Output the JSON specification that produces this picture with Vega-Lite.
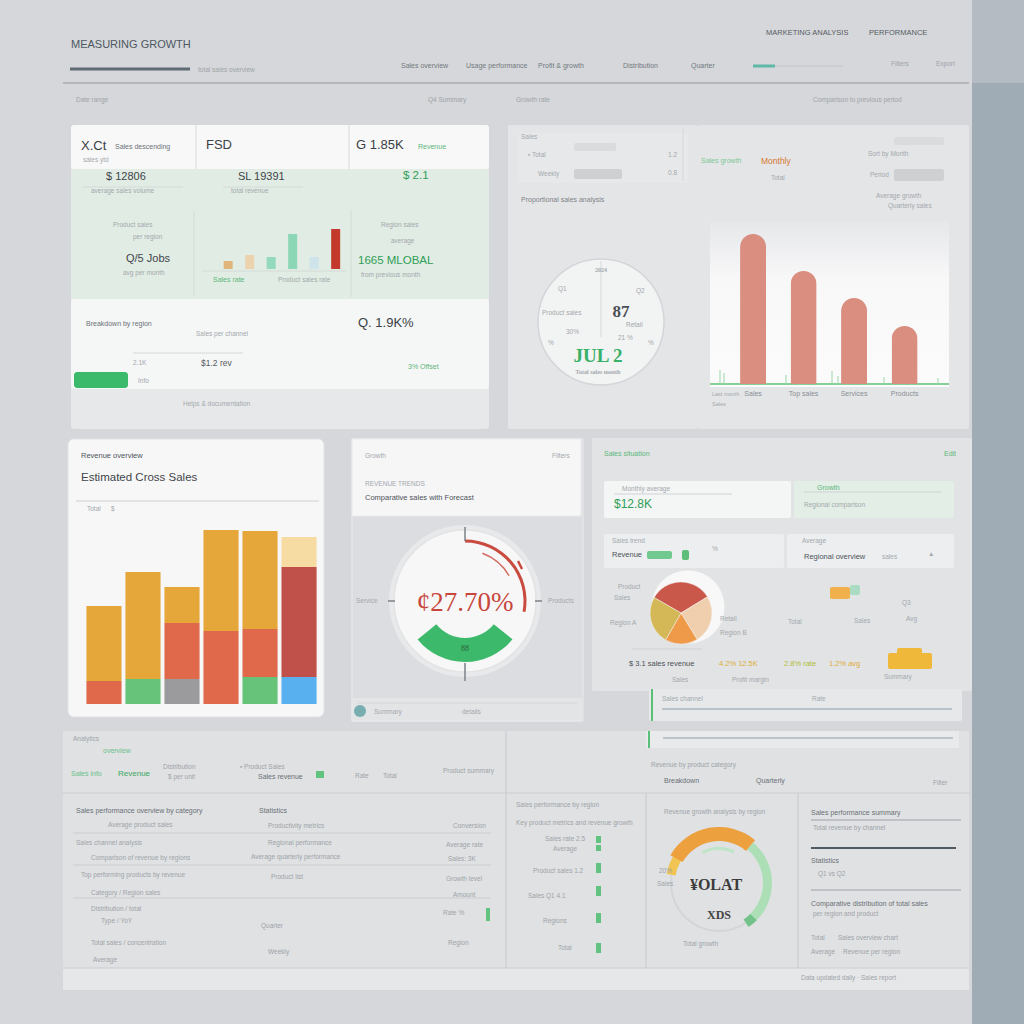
{
"$schema":"https://vega.github.io/schema/vega-lite/v6.json",
"background":"#d5d7da",
"padding":{"left":62,"top":0,"right":0,"bottom":0},
"spacing":0,
"config":{"view":{"stroke":null},"font":"Liberation Sans"},
"hconcat":[
{"spacing":8,
"vconcat":[
{"width":906,"height":116,
 "resolve":{"scale":{"x":"independent","y":"independent","color":"independent","size":"independent","strokeWidth":"independent"}},
 "layer":[
  {"data":{"values":[{"gx":7,"gx2":127,"gy":69,"gy2":69,"k":"dark"},{"gx":690,"gx2":712,"gy":66,"gy2":66,"k":"teal"},{"gx":712,"gx2":780,"gy":66,"gy2":66,"k":"faint"},{"gx":0,"gx2":906,"gy":83,"gy2":83,"k":"line"}]},
   "mark":{"type":"rule"},
   "encoding":{"x":{"field":"gx","type":"quantitative","scale":{"domain":[0,906],"nice":false,"zero":false},"axis":null},"x2":{"field":"gx2"},
    "y":{"field":"gy","type":"quantitative","scale":{"domain":[0,116],"nice":false,"zero":false,"reverse":true},"axis":null},"y2":{"field":"gy2"},
    "color":{"field":"k","type":"nominal","scale":{"domain":["line","dark","teal","faint"],"range":["#b3b7bb","#5f6b72","#5fb8a8","#c9cccf"]},"legend":null},
    "strokeWidth":{"field":"k","type":"nominal","scale":{"type":"ordinal","domain":["line","dark","teal","faint"],"range":[2,3,3,1.5]},"legend":null}}},
  {"data":{"values":[
    {"gx":8,"gy":45,"t":"MEASURING GROWTH","k":"title"},
    {"gx":135,"gy":70,"t":"total sales overview","k":"faint"},
    {"gx":338,"gy":66,"t":"Sales overview","k":"small"},
    {"gx":403,"gy":66,"t":"Usage performance","k":"small"},
    {"gx":475,"gy":66,"t":"Profit & growth","k":"small"},
    {"gx":560,"gy":66,"t":"Distribution","k":"small"},
    {"gx":628,"gy":66,"t":"Quarter","k":"small"},
    {"gx":703,"gy":33,"t":"MARKETING ANALYSIS","k":"label"},
    {"gx":806,"gy":33,"t":"PERFORMANCE","k":"label"},
    {"gx":828,"gy":64,"t":"Filters","k":"faint"},
    {"gx":873,"gy":64,"t":"Export","k":"faint"},
    {"gx":13,"gy":100,"t":"Date range","k":"faint"},
    {"gx":365,"gy":100,"t":"Q4 Summary","k":"faint"},
    {"gx":453,"gy":100,"t":"Growth rate","k":"faint"},
    {"gx":750,"gy":100,"t":"Comparison to previous period","k":"faint"}]},
   "mark":{"type":"text","align":"left","baseline":"middle","font":"Liberation Sans"},
   "encoding":{"x":{"field":"gx","type":"quantitative","scale":{"domain":[0,906],"nice":false,"zero":false},"axis":null},
    "y":{"field":"gy","type":"quantitative","scale":{"domain":[0,116],"nice":false,"zero":false,"reverse":true},"axis":null},
    "text":{"field":"t"},
    "color":{"field":"k","type":"nominal","scale":{"domain":["faint","small","label","title"],"range":["#9ea3a8","#737980","#555b62","#4d5862"]},"legend":null},
    "size":{"field":"k","type":"nominal","scale":{"type":"ordinal","domain":["faint","small","label","title"],"range":[6.5,7,7.5,11]},"legend":null}}}
 ]},
{"spacing":19,"hconcat":[
 {"width":426,"height":304,
  "resolve":{"scale":{"x":"independent","y":"independent","color":"independent","size":"independent","strokeWidth":"independent"}},
  "layer":[
   {"data":{"values":[{"gx":8,"gx2":426,"gy":0,"gy2":304,"k":"card"},{"gx":8,"gx2":426,"gy":0,"gy2":44,"k":"white"},{"gx":8,"gx2":426,"gy":44,"gy2":174,"k":"green"},{"gx":8,"gx2":426,"gy":174,"gy2":264,"k":"white2"},{"gx":11,"gx2":65,"gy":247,"gy2":263,"k":"btn"}]},
    "mark":{"type":"rect","cornerRadius":3},
    "encoding":{"x":{"field":"gx","type":"quantitative","scale":{"domain":[0,426],"nice":false,"zero":false},"axis":null},"x2":{"field":"gx2"},
     "y":{"field":"gy","type":"quantitative","scale":{"domain":[0,304],"nice":false,"zero":false,"reverse":true},"axis":null},"y2":{"field":"gy2"},
     "color":{"field":"k","type":"nominal","scale":{"domain":["card","white","green","white2","btn"],"range":["#e7e8ea","#f8f8f9","#e1ece4","#f5f6f6","#3cba6c"]},"legend":null}}},
   {"data":{"values":[{"gx":133,"gx2":133,"gy":0,"gy2":44},{"gx":286,"gx2":286,"gy":0,"gy2":44},{"gx":131,"gx2":131,"gy":86,"gy2":172},{"gx":288,"gx2":288,"gy":86,"gy2":172},{"gx":20,"gx2":120,"gy":62,"gy2":62},{"gx":160,"gx2":240,"gy":62,"gy2":62},{"gx":140,"gx2":283,"gy":146,"gy2":146},{"gx":70,"gx2":180,"gy":228,"gy2":228}]},
    "mark":{"type":"rule","color":"#d6d9d8","strokeWidth":1},
    "encoding":{"x":{"field":"gx","type":"quantitative","scale":{"domain":[0,426],"nice":false,"zero":false},"axis":null},"x2":{"field":"gx2"},
     "y":{"field":"gy","type":"quantitative","scale":{"domain":[0,304],"nice":false,"zero":false,"reverse":true},"axis":null},"y2":{"field":"gy2"}}},
   {"data":{"values":[{"i":0,"v":8,"m":"a"},{"i":1,"v":14,"m":"b"},{"i":2,"v":12,"m":"c"},{"i":3,"v":35,"m":"d"},{"i":4,"v":12,"m":"e"},{"i":5,"v":40,"m":"f"}]},
    "mark":{"type":"bar","width":9},
    "encoding":{"x":{"field":"i","type":"quantitative","scale":{"domain":[-7.45,11.9],"nice":false,"zero":false},"axis":null},
     "y":{"field":"v","type":"quantitative","scale":{"domain":[-160,144],"nice":false,"zero":false},"axis":null},
     "color":{"field":"m","type":"nominal","scale":{"domain":["a","b","c","d","e","f"],"range":["#e0b57c","#ecd3ae","#92d9bd","#8bd6b5","#cfe3ea","#c3392c"]},"legend":null}}},
   {"data":{"values":[
     {"gx":18,"gy":21,"t":"X.Ct","k":"big"},
     {"gx":52,"gy":22,"t":"Sales descending","k":"small"},
     {"gx":20,"gy":35,"t":"sales ytd","k":"faint"},
     {"gx":143,"gy":20,"t":"FSD","k":"big"},
     {"gx":293,"gy":20,"t":"G  1.85K","k":"big"},
     {"gx":355,"gy":22,"t":"Revenue","k":"greensmall"},
     {"gx":43,"gy":52,"t":"$  12806","k":"value"},
     {"gx":175,"gy":52,"t":"SL 19391","k":"value"},
     {"gx":340,"gy":51,"t":"$ 2.1","k":"greenbig"},
     {"gx":28,"gy":66,"t":"average sales volume","k":"faint"},
     {"gx":168,"gy":66,"t":"total revenue","k":"faint"},
     {"gx":50,"gy":100,"t":"Product sales","k":"faint"},
     {"gx":70,"gy":112,"t":"per region","k":"faint"},
     {"gx":318,"gy":100,"t":"Region sales","k":"faint"},
     {"gx":328,"gy":116,"t":"average","k":"faint"},
     {"gx":63,"gy":134,"t":"Q/5  Jobs","k":"value"},
     {"gx":60,"gy":148,"t":"avg per month","k":"faint"},
     {"gx":295,"gy":136,"t":"1665   MLOBAL","k":"greenbig"},
     {"gx":298,"gy":150,"t":"from previous month","k":"faint"},
     {"gx":150,"gy":155,"t":"Sales rate","k":"greensmall"},
     {"gx":215,"gy":155,"t":"Product sales rate","k":"faint"},
     {"gx":23,"gy":199,"t":"Breakdown by region","k":"small"},
     {"gx":295,"gy":198,"t":"Q.   1.9K%","k":"big"},
     {"gx":133,"gy":209,"t":"Sales per channel","k":"faint"},
     {"gx":70,"gy":238,"t":"2.1K","k":"faint"},
     {"gx":138,"gy":238,"t":"$1.2  rev","k":"label"},
     {"gx":345,"gy":242,"t":"3%  Offset","k":"greensmall"},
     {"gx":75,"gy":256,"t":"Info","k":"faint"},
     {"gx":120,"gy":279,"t":"Helps & documentation","k":"faint"}]},
    "mark":{"type":"text","align":"left","baseline":"middle","font":"Liberation Sans"},
    "encoding":{"x":{"field":"gx","type":"quantitative","scale":{"domain":[0,426],"nice":false,"zero":false},"axis":null},
     "y":{"field":"gy","type":"quantitative","scale":{"domain":[0,304],"nice":false,"zero":false,"reverse":true},"axis":null},
     "text":{"field":"t"},
     "color":{"field":"k","type":"nominal","scale":{"domain":["faint","small","label","value","big","greensmall","greenbig"],"range":["#a3a8ad","#6c7278","#555b62","#3f444a","#3a3f45","#5cb77a","#2f9e56"]},"legend":null},
     "size":{"field":"k","type":"nominal","scale":{"type":"ordinal","domain":["faint","small","label","value","big","greensmall","greenbig"],"range":[6.5,7,8.5,11,13,7,11.5]},"legend":null}}}
  ]},
 {"spacing":0,"hconcat":[
  {"width":190,"height":304,
   "resolve":{"scale":{"x":"independent","y":"independent","color":"independent","size":"independent","strokeWidth":"independent"}},
   "layer":[
    {"data":{"values":[{"gx":0,"gx2":190,"gy":0,"gy2":304,"k":"panel"},{"gx":10,"gx2":180,"gy":8,"gy2":58,"k":"sub"},{"gx":66,"gx2":108,"gy":18,"gy2":26,"k":"pill"},{"gx":66,"gx2":114,"gy":44,"gy2":54,"k":"pill2"}]},
     "mark":{"type":"rect","cornerRadius":2},
     "encoding":{"x":{"field":"gx","type":"quantitative","scale":{"domain":[0,190],"nice":false,"zero":false},"axis":null},"x2":{"field":"gx2"},
      "y":{"field":"gy","type":"quantitative","scale":{"domain":[0,304],"nice":false,"zero":false,"reverse":true},"axis":null},"y2":{"field":"gy2"},
      "color":{"field":"k","type":"nominal","scale":{"domain":["panel","sub","pill","pill2"],"range":["#e4e5e7","#e7e8ea","#dadbdd","#cfd0d2"]},"legend":null}}},
    {"data":{"values":[{"gx":93,"gy":197}]},
     "mark":{"type":"arc","theta":0,"theta2":6.2832,"innerRadius":0,"outerRadius":63,"fill":"#f2f3f3","stroke":"#d3d5d8","strokeWidth":1.5},
     "encoding":{"x":{"field":"gx","type":"quantitative","scale":{"domain":[0,190],"nice":false,"zero":false},"axis":null},
      "y":{"field":"gy","type":"quantitative","scale":{"domain":[0,304],"nice":false,"zero":false,"reverse":true},"axis":null}}},
    {"data":{"values":[{"gx":93,"gx2":93,"gy":136,"gy2":212},{"gx":175,"gx2":175,"gy":3,"gy2":56}]},
     "mark":{"type":"rule","color":"#d5d8db","strokeWidth":1},
     "encoding":{"x":{"field":"gx","type":"quantitative","scale":{"domain":[0,190],"nice":false,"zero":false},"axis":null},"x2":{"field":"gx2"},
      "y":{"field":"gy","type":"quantitative","scale":{"domain":[0,304],"nice":false,"zero":false,"reverse":true},"axis":null},"y2":{"field":"gy2"}}},
    {"data":{"values":[
      {"gx":13,"gy":12,"t":"Sales","k":"faint"},
      {"gx":20,"gy":30,"t":"▪  Total","k":"faint"},
      {"gx":30,"gy":49,"t":"Weekly","k":"faint"},
      {"gx":160,"gy":30,"t":"1.2","k":"faint"},
      {"gx":160,"gy":48,"t":"0.8","k":"faint"},
      {"gx":13,"gy":75,"t":"Proportional sales analysis","k":"small"},
      {"gx":50,"gy":164,"t":"Q1","k":"faint"},
      {"gx":128,"gy":166,"t":"Q2","k":"faint"},
      {"gx":34,"gy":188,"t":"Product sales","k":"faint"},
      {"gx":58,"gy":207,"t":"30%","k":"faint"},
      {"gx":118,"gy":200,"t":"Retail","k":"faint"},
      {"gx":110,"gy":213,"t":"21 %","k":"faint"},
      {"gx":40,"gy":218,"t":"%","k":"faint"},
      {"gx":140,"gy":218,"t":"%","k":"faint"}]},
     "mark":{"type":"text","align":"left","baseline":"middle","font":"Liberation Sans"},
     "encoding":{"x":{"field":"gx","type":"quantitative","scale":{"domain":[0,190],"nice":false,"zero":false},"axis":null},
      "y":{"field":"gy","type":"quantitative","scale":{"domain":[0,304],"nice":false,"zero":false,"reverse":true},"axis":null},
      "text":{"field":"t"},
      "color":{"field":"k","type":"nominal","scale":{"domain":["faint","small"],"range":["#a3a8ad","#7d8389"]},"legend":null},
      "size":{"field":"k","type":"nominal","scale":{"type":"ordinal","domain":["faint","small"],"range":[6.5,7]},"legend":null}}},
    {"data":{"values":[
      {"gx":93,"gy":145,"t":"2024","k":"faint"},
      {"gx":113,"gy":187,"t":"87","k":"dark"},
      {"gx":90,"gy":231,"t":"JUL 2","k":"green"},
      {"gx":90,"gy":247,"t":"Total sales month","k":"faint"}]},
     "mark":{"type":"text","align":"center","baseline":"middle","font":"Liberation Serif","fontWeight":"bold"},
     "encoding":{"x":{"field":"gx","type":"quantitative","scale":{"domain":[0,190],"nice":false,"zero":false},"axis":null},
      "y":{"field":"gy","type":"quantitative","scale":{"domain":[0,304],"nice":false,"zero":false,"reverse":true},"axis":null},
      "text":{"field":"t"},
      "color":{"field":"k","type":"nominal","scale":{"domain":["faint","dark","green"],"range":["#a3a8ad","#4a4f55","#38b066"]},"legend":null},
      "size":{"field":"k","type":"nominal","scale":{"type":"ordinal","domain":["faint","dark","green"],"range":[6,17,19]},"legend":null}}}
   ]},
  {"width":271,"height":304,
   "resolve":{"scale":{"x":"independent","y":"independent","color":"independent","size":"independent","strokeWidth":"independent"}},
   "layer":[
    {"data":{"values":[{"gx":0,"gx2":271,"gy":0,"gy2":304,"k":"panel"},{"gx":196,"gx2":246,"gy":12,"gy2":20,"k":"pill"},{"gx":196,"gx2":246,"gy":44,"gy2":56,"k":"pill2"}]},
     "mark":{"type":"rect","cornerRadius":2},
     "encoding":{"x":{"field":"gx","type":"quantitative","scale":{"domain":[0,271],"nice":false,"zero":false},"axis":null},"x2":{"field":"gx2"},
      "y":{"field":"gy","type":"quantitative","scale":{"domain":[0,304],"nice":false,"zero":false,"reverse":true},"axis":null},"y2":{"field":"gy2"},
      "color":{"field":"k","type":"nominal","scale":{"domain":["panel","pill","pill2"],"range":["#e4e5e7","#dadbdd","#cfd0d2"]},"legend":null}}},
    {"data":{"values":[{"gx":12,"gx2":251,"gy":96,"gy2":262}]},
     "mark":{"type":"rect","fill":{"gradient":"linear","x1":0,"y1":0,"x2":0,"y2":1,"stops":[{"offset":0,"color":"#e6e7e9"},{"offset":0.35,"color":"#f8f8f9"},{"offset":1,"color":"#fbfbfb"}]}},
     "encoding":{"x":{"field":"gx","type":"quantitative","scale":{"domain":[0,271],"nice":false,"zero":false},"axis":null},"x2":{"field":"gx2"},
      "y":{"field":"gy","type":"quantitative","scale":{"domain":[0,304],"nice":false,"zero":false,"reverse":true},"axis":null},"y2":{"field":"gy2"}}},
    {"data":{"values":[{"gx":12,"gx2":251,"gy":259,"gy2":259,"k":"base"},{"gx":22,"gx2":22,"gy":245,"gy2":259,"k":"spike"},{"gx":26,"gx2":26,"gy":248,"gy2":259,"k":"spike"},{"gx":88,"gx2":88,"gy":250,"gy2":259,"k":"spike"},{"gx":134,"gx2":134,"gy":246,"gy2":259,"k":"spike"},{"gx":140,"gx2":140,"gy":251,"gy2":259,"k":"spike"},{"gx":186,"gx2":186,"gy":252,"gy2":259,"k":"spike"},{"gx":240,"gx2":240,"gy":253,"gy2":259,"k":"spike"}]},
     "mark":{"type":"rule"},
     "encoding":{"x":{"field":"gx","type":"quantitative","scale":{"domain":[0,271],"nice":false,"zero":false},"axis":null},"x2":{"field":"gx2"},
      "y":{"field":"gy","type":"quantitative","scale":{"domain":[0,304],"nice":false,"zero":false,"reverse":true},"axis":null},"y2":{"field":"gy2"},
      "color":{"field":"k","type":"nominal","scale":{"domain":["base","spike"],"range":["#86cf96","#9bd6a8"]},"legend":null},
      "strokeWidth":{"field":"k","type":"nominal","scale":{"type":"ordinal","domain":["base","spike"],"range":[2,1]},"legend":null}}},
    {"data":{"values":[{"cat":"Sales","v":150},{"cat":"Top sales","v":113},{"cat":"Services","v":86},{"cat":"Products","v":58}]},
     "mark":{"type":"bar","color":"#d98e80","cornerRadiusTopLeft":13,"cornerRadiusTopRight":13},
     "encoding":{"x":{"field":"cat","type":"nominal","sort":null,"scale":{"paddingInner":0.485,"paddingOuter":0.926,"align":0.45},
       "axis":{"title":null,"domain":false,"ticks":false,"labelPadding":5,"labelFontSize":7,"labelColor":"#8a8f94","labelFont":"Liberation Sans","labelAngle":0,"offset":-45,"zindex":1}},
      "y":{"field":"v","type":"quantitative","scale":{"domain":[-45,259],"nice":false,"zero":false},"axis":null}}},
    {"data":{"values":[
      {"gx":3,"gy":36,"t":"Sales growth","k":"greensmall"},
      {"gx":63,"gy":36,"t":"Monthly","k":"orange"},
      {"gx":73,"gy":53,"t":"Total","k":"faint"},
      {"gx":170,"gy":29,"t":"Sort by  Month","k":"faint"},
      {"gx":172,"gy":50,"t":"Period","k":"faint"},
      {"gx":178,"gy":71,"t":"Average growth","k":"faint"},
      {"gx":190,"gy":81,"t":"Quarterly sales","k":"faint"},
      {"gx":14,"gy":269,"t":"Last month","k":"tiny"},
      {"gx":14,"gy":279,"t":"Sales","k":"tiny"}]},
     "mark":{"type":"text","align":"left","baseline":"middle","font":"Liberation Sans"},
     "encoding":{"x":{"field":"gx","type":"quantitative","scale":{"domain":[0,271],"nice":false,"zero":false},"axis":null},
      "y":{"field":"gy","type":"quantitative","scale":{"domain":[0,304],"nice":false,"zero":false,"reverse":true},"axis":null},
      "text":{"field":"t"},
      "color":{"field":"k","type":"nominal","scale":{"domain":["faint","greensmall","orange","tiny"],"range":["#a3a8ad","#7cc796","#d5782f","#a3a8ad"]},"legend":null},
      "size":{"field":"k","type":"nominal","scale":{"type":"ordinal","domain":["faint","greensmall","orange","tiny"],"range":[6.5,7,8.5,5.5]},"legend":null}}}
   ]}
 ]}
]},
{"spacing":26,"hconcat":[
 {"width":261,"height":284,
  "resolve":{"scale":{"x":"independent","y":"independent","color":"independent","size":"independent","strokeWidth":"independent"}},
  "layer":[
   {"data":{"values":[{"gx":5,"gx2":261,"gy":2,"gy2":280}]},
    "mark":{"type":"rect","cornerRadius":6,"fill":"#f7f7f7","stroke":"#e2e3e4"},
    "encoding":{"x":{"field":"gx","type":"quantitative","scale":{"domain":[0,261],"nice":false,"zero":false},"axis":null},"x2":{"field":"gx2"},
     "y":{"field":"gy","type":"quantitative","scale":{"domain":[0,284],"nice":false,"zero":false,"reverse":true},"axis":null},"y2":{"field":"gy2"}}},
   {"data":{"values":[{"gx":13,"gx2":256,"gy":64,"gy2":64}]},
    "mark":{"type":"rule","color":"#cfd0d2","strokeWidth":1.2},
    "encoding":{"x":{"field":"gx","type":"quantitative","scale":{"domain":[0,261],"nice":false,"zero":false},"axis":null},"x2":{"field":"gx2"},
     "y":{"field":"gy","type":"quantitative","scale":{"domain":[0,284],"nice":false,"zero":false,"reverse":true},"axis":null},"y2":{"field":"gy2"}}},
   {"data":{"values":[
     {"q":"Q1","seg":"coral","o":1,"v":23},{"q":"Q1","seg":"orange","o":2,"v":75},
     {"q":"Q2","seg":"green","o":1,"v":25},{"q":"Q2","seg":"orange","o":2,"v":107},
     {"q":"Q3","seg":"gray","o":1,"v":25},{"q":"Q3","seg":"coral","o":2,"v":56},{"q":"Q3","seg":"orange","o":3,"v":36},
     {"q":"Q4","seg":"coral","o":1,"v":73},{"q":"Q4","seg":"orange","o":2,"v":101},
     {"q":"Q5","seg":"green","o":1,"v":27},{"q":"Q5","seg":"coral","o":2,"v":48},{"q":"Q5","seg":"orange","o":3,"v":98},
     {"q":"Q6","seg":"blue","o":1,"v":27},{"q":"Q6","seg":"darkred","o":2,"v":110},{"q":"Q6","seg":"cream","o":3,"v":30}]},
    "mark":{"type":"bar"},
    "encoding":{"x":{"field":"q","type":"nominal","scale":{"paddingInner":0.1,"paddingOuter":0.395,"align":0.76},"axis":null},
     "y":{"field":"v","type":"quantitative","stack":"zero","scale":{"domain":[-17,267],"nice":false,"zero":false},"axis":null},
     "color":{"field":"seg","type":"nominal","scale":{"domain":["coral","orange","green","gray","blue","darkred","cream"],"range":["#e0694c","#e6a73a","#67c27a","#9b9b9d","#58b0ef","#c0504a","#f6dca2"]},"legend":null},
     "order":{"field":"o","type":"quantitative"}}},
   {"data":{"values":[
     {"gx":18,"gy":19,"t":"Revenue overview","k":"small"},
     {"gx":18,"gy":41,"t":"Estimated Cross Sales","k":"value"},
     {"gx":24,"gy":72,"t":"Total","k":"faint"},
     {"gx":48,"gy":72,"t":"$","k":"faint"}]},
    "mark":{"type":"text","align":"left","baseline":"middle","font":"Liberation Sans"},
    "encoding":{"x":{"field":"gx","type":"quantitative","scale":{"domain":[0,261],"nice":false,"zero":false},"axis":null},
     "y":{"field":"gy","type":"quantitative","scale":{"domain":[0,284],"nice":false,"zero":false,"reverse":true},"axis":null},
     "text":{"field":"t"},
     "color":{"field":"k","type":"nominal","scale":{"domain":["faint","small","value"],"range":["#a3a8ad","#4f555b","#3f444a"]},"legend":null},
     "size":{"field":"k","type":"nominal","scale":{"type":"ordinal","domain":["faint","small","value"],"range":[6.5,7.5,11.5]},"legend":null}}}
  ]},
 {"spacing":8,"hconcat":[
  {"width":231,"height":284,
   "resolve":{"scale":{"x":"independent","y":"independent","color":"independent","size":"independent","strokeWidth":"independent"}},
   "layer":[
    {"data":{"values":[{"gx":0,"gx2":231,"gy":2,"gy2":284,"k":"body"},{"gx":0,"gx2":229,"gy":2,"gy2":79,"k":"head"},{"gx":0,"gx2":229,"gy":262,"gy2":284,"k":"foot"}]},
     "mark":{"type":"rect","stroke":"#e9eaeb"},
     "encoding":{"x":{"field":"gx","type":"quantitative","scale":{"domain":[0,231],"nice":false,"zero":false},"axis":null},"x2":{"field":"gx2"},
      "y":{"field":"gy","type":"quantitative","scale":{"domain":[0,284],"nice":false,"zero":false,"reverse":true},"axis":null},"y2":{"field":"gy2"},
      "color":{"field":"k","type":"nominal","scale":{"domain":["body","head","foot"],"range":["#dcdde0","#f6f6f7","#e3e4e6"]},"legend":null}}},
    {"data":{"values":[{"gx":113,"gy":164}]},
     "mark":{"type":"arc","theta":0,"theta2":6.2832,"innerRadius":71,"outerRadius":76,"fill":"#e8e9eb"},
     "encoding":{"x":{"field":"gx","type":"quantitative","scale":{"domain":[0,231],"nice":false,"zero":false},"axis":null},
      "y":{"field":"gy","type":"quantitative","scale":{"domain":[0,284],"nice":false,"zero":false,"reverse":true},"axis":null}}},
    {"data":{"values":[{"gx":113,"gy":164}]},
     "mark":{"type":"arc","theta":0,"theta2":6.2832,"innerRadius":0,"outerRadius":71,"fill":"#f7f7f7","stroke":"#e2e3e4","strokeWidth":1.5},
     "encoding":{"x":{"field":"gx","type":"quantitative","scale":{"domain":[0,231],"nice":false,"zero":false},"axis":null},
      "y":{"field":"gy","type":"quantitative","scale":{"domain":[0,284],"nice":false,"zero":false,"reverse":true},"axis":null}}},
    {"data":{"values":[{"gx":113,"gy":164}]},
     "mark":{"type":"arc","theta":0,"theta2":1.75,"innerRadius":58.5,"outerRadius":61.5,"fill":"#c94a3f"},
     "encoding":{"x":{"field":"gx","type":"quantitative","scale":{"domain":[0,231],"nice":false,"zero":false},"axis":null},
      "y":{"field":"gy","type":"quantitative","scale":{"domain":[0,284],"nice":false,"zero":false,"reverse":true},"axis":null}}},
    {"data":{"values":[{"gx":113,"gy":164}]},
     "mark":{"type":"arc","theta":0.35,"theta2":1.05,"innerRadius":50,"outerRadius":51.5,"fill":"#d26a60"},
     "encoding":{"x":{"field":"gx","type":"quantitative","scale":{"domain":[0,231],"nice":false,"zero":false},"axis":null},
      "y":{"field":"gy","type":"quantitative","scale":{"domain":[0,284],"nice":false,"zero":false,"reverse":true},"axis":null}}},
    {"data":{"values":[{"gx":113,"gy":164}]},
     "mark":{"type":"arc","theta":2.25,"theta2":4.03,"innerRadius":37,"outerRadius":61,"fill":"#3cb96b"},
     "encoding":{"x":{"field":"gx","type":"quantitative","scale":{"domain":[0,231],"nice":false,"zero":false},"axis":null},
      "y":{"field":"gy","type":"quantitative","scale":{"domain":[0,284],"nice":false,"zero":false,"reverse":true},"axis":null}}},
    {"data":{"values":[{"gx":8,"gy":274}]},
     "mark":{"type":"arc","theta":0,"theta2":6.2832,"innerRadius":0,"outerRadius":6,"fill":"#78aeb0"},
     "encoding":{"x":{"field":"gx","type":"quantitative","scale":{"domain":[0,231],"nice":false,"zero":false},"axis":null},
      "y":{"field":"gy","type":"quantitative","scale":{"domain":[0,284],"nice":false,"zero":false,"reverse":true},"axis":null}}},
    {"data":{"values":[{"gx":113,"gx2":113,"gy":90,"gy2":104,"k":"tick"},{"gx":113,"gx2":113,"gy":226,"gy2":244,"k":"tick"},{"gx":36,"gx2":43,"gy":164,"gy2":164,"k":"tick"},{"gx":183,"gx2":190,"gy":164,"gy2":164,"k":"tick"},{"gx":5,"gx2":225,"gy":266,"gy2":266,"k":"faint"},{"gx":166,"gx2":170,"gy":124,"gy2":132,"k":"red"}]},
     "mark":{"type":"rule"},
     "encoding":{"x":{"field":"gx","type":"quantitative","scale":{"domain":[0,231],"nice":false,"zero":false},"axis":null},"x2":{"field":"gx2"},
      "y":{"field":"gy","type":"quantitative","scale":{"domain":[0,284],"nice":false,"zero":false,"reverse":true},"axis":null},"y2":{"field":"gy2"},
      "color":{"field":"k","type":"nominal","scale":{"domain":["tick","faint","red"],"range":["#7d8287","#d4d6d9","#c94a3f"]},"legend":null},
      "strokeWidth":{"field":"k","type":"nominal","scale":{"type":"ordinal","domain":["tick","faint","red"],"range":[1.5,1,2.5]},"legend":null}}},
    {"data":{"values":[
      {"gx":13,"gy":19,"t":"Growth","k":"faint"},
      {"gx":200,"gy":19,"t":"Filters","k":"faint"},
      {"gx":13,"gy":47,"t":"REVENUE TRENDS","k":"faint"},
      {"gx":13,"gy":61,"t":"Comparative sales with Forecast","k":"small"},
      {"gx":4,"gy":164,"t":"Service","k":"faint"},
      {"gx":196,"gy":164,"t":"Products","k":"faint"},
      {"gx":22,"gy":275,"t":"Summary","k":"faint"},
      {"gx":110,"gy":275,"t":"details","k":"faint"}]},
     "mark":{"type":"text","align":"left","baseline":"middle","font":"Liberation Sans"},
     "encoding":{"x":{"field":"gx","type":"quantitative","scale":{"domain":[0,231],"nice":false,"zero":false},"axis":null},
      "y":{"field":"gy","type":"quantitative","scale":{"domain":[0,284],"nice":false,"zero":false,"reverse":true},"axis":null},
      "text":{"field":"t"},
      "color":{"field":"k","type":"nominal","scale":{"domain":["faint","small"],"range":["#a3a8ad","#4d5258"]},"legend":null},
      "size":{"field":"k","type":"nominal","scale":{"type":"ordinal","domain":["faint","small"],"range":[6.5,7.5]},"legend":null}}},
    {"data":{"values":[
      {"gx":113,"gy":166,"t":"¢27.70%","k":"red"},
      {"gx":113,"gy":212,"t":"88","k":"small"}]},
     "mark":{"type":"text","align":"center","baseline":"middle","font":"Liberation Serif"},
     "encoding":{"x":{"field":"gx","type":"quantitative","scale":{"domain":[0,231],"nice":false,"zero":false},"axis":null},
      "y":{"field":"gy","type":"quantitative","scale":{"domain":[0,284],"nice":false,"zero":false,"reverse":true},"axis":null},
      "text":{"field":"t"},
      "color":{"field":"k","type":"nominal","scale":{"domain":["red","small"],"range":["#c8463c","#2f5e3e"]},"legend":null},
      "size":{"field":"k","type":"nominal","scale":{"type":"ordinal","domain":["red","small"],"range":[27,8]},"legend":null}}}
   ]},
  {"width":380,"height":284,
   "resolve":{"scale":{"x":"independent","y":"independent","color":"independent","size":"independent","strokeWidth":"independent","theta":"independent"}},
   "layer":[
    {"data":{"values":[{"gx":0,"gx2":380,"gy":1,"gy2":254,"k":"panel"},{"gx":12,"gx2":199,"gy":44,"gy2":81,"k":"sub"},{"gx":202,"gx2":362,"gy":44,"gy2":81,"k":"subg"},{"gx":12,"gx2":192,"gy":97,"gy2":131,"k":"sub2"},{"gx":195,"gx2":362,"gy":97,"gy2":131,"k":"sub2"},{"gx":55,"gx2":80,"gy":114,"gy2":122,"k":"pill"},{"gx":90,"gx2":97,"gy":113,"gy2":123,"k":"gicon"},{"gx":296,"gx2":340,"gy":216,"gy2":232,"k":"orange"},{"gx":305,"gx2":330,"gy":211,"gy2":218,"k":"orange"},{"gx":238,"gx2":258,"gy":150,"gy2":162,"k":"orange2"},{"gx":258,"gx2":268,"gy":148,"gy2":158,"k":"mint"},{"gx":57,"gx2":370,"gy":252,"gy2":284,"k":"strip"}]},
     "mark":{"type":"rect","cornerRadius":2},
     "encoding":{"x":{"field":"gx","type":"quantitative","scale":{"domain":[0,380],"nice":false,"zero":false},"axis":null},"x2":{"field":"gx2"},
      "y":{"field":"gy","type":"quantitative","scale":{"domain":[0,284],"nice":false,"zero":false,"reverse":true},"axis":null},"y2":{"field":"gy2"},
      "color":{"field":"k","type":"nominal","scale":{"domain":["panel","sub","subg","sub2","pill","gicon","orange","orange2","mint","strip"],"range":["#e1e3e5","#f4f5f5","#e3eee6","#eceef0","#72c98f","#5fbf7a","#efb83a","#f0b14c","#a9dcc2","#e6e8ea"]},"legend":null}}},
    {"data":{"values":[{"gx":60,"gx2":60,"gy":252,"gy2":284,"k":"green"},{"gx":22,"gx2":140,"gy":57,"gy2":57,"k":"faint"},{"gx":212,"gx2":350,"gy":55,"gy2":55,"k":"faint"},{"gx":70,"gx2":360,"gy":272,"gy2":272,"k":"blue"},{"gx":40,"gx2":110,"gy":212,"gy2":212,"k":"faint"}]},
     "mark":{"type":"rule"},
     "encoding":{"x":{"field":"gx","type":"quantitative","scale":{"domain":[0,380],"nice":false,"zero":false},"axis":null},"x2":{"field":"gx2"},
      "y":{"field":"gy","type":"quantitative","scale":{"domain":[0,284],"nice":false,"zero":false,"reverse":true},"axis":null},"y2":{"field":"gy2"},
      "color":{"field":"k","type":"nominal","scale":{"domain":["green","faint","blue"],"range":["#5bbf7a","#cfd3d6","#aab4c0"]},"legend":null},
      "strokeWidth":{"field":"k","type":"nominal","scale":{"type":"ordinal","domain":["green","faint","blue"],"range":[2,1,1.5]},"legend":null}}},
    {"data":{"values":[{"gx":96,"gy":170}]},
     "mark":{"type":"arc","theta":0,"theta2":6.2832,"innerRadius":0,"outerRadius":37,"fill":"#f8f8f8","stroke":"#e4e5e6"},
     "encoding":{"x":{"field":"gx","type":"quantitative","scale":{"domain":[0,380],"nice":false,"zero":false},"axis":null},
      "y":{"field":"gy","type":"quantitative","scale":{"domain":[0,284],"nice":false,"zero":false,"reverse":true},"axis":null}}},
    {"data":{"values":[{"s":"red","v":33,"o":1,"gx":89,"gy":176},{"s":"peach","v":25,"o":2,"gx":89,"gy":176},{"s":"orange","v":17,"o":3,"gx":89,"gy":176},{"s":"olive","v":25,"o":4,"gx":89,"gy":176}]},
     "mark":{"type":"arc","outerRadius":31,"thetaOffset":-1.05,"theta2Offset":-1.05,"stroke":"#f3f3f3","strokeWidth":0.5},
     "encoding":{"x":{"field":"gx","type":"quantitative","scale":{"domain":[0,380],"nice":false,"zero":false},"axis":null},
      "y":{"field":"gy","type":"quantitative","scale":{"domain":[0,284],"nice":false,"zero":false,"reverse":true},"axis":null},
      "theta":{"field":"v","type":"quantitative","stack":true},
      "order":{"field":"o","type":"quantitative"},
      "color":{"field":"s","type":"nominal","scale":{"domain":["red","peach","orange","olive"],"range":["#c9574a","#efcfae","#ee9a48","#d4b857"]},"legend":null}}},
    {"data":{"values":[
      {"gx":12,"gy":17,"t":"Sales situation","k":"greensmall"},
      {"gx":352,"gy":17,"t":"Edit","k":"greensmall"},
      {"gx":30,"gy":52,"t":"Monthly average","k":"faint"},
      {"gx":22,"gy":67,"t":"$12.8K","k":"greenbig"},
      {"gx":225,"gy":51,"t":"Growth","k":"greensmall"},
      {"gx":212,"gy":68,"t":"Regional comparison","k":"faint"},
      {"gx":20,"gy":104,"t":"Sales trend","k":"faint"},
      {"gx":20,"gy":118,"t":"Revenue","k":"small"},
      {"gx":210,"gy":104,"t":"Average","k":"faint"},
      {"gx":212,"gy":120,"t":"Regional overview","k":"small"},
      {"gx":290,"gy":120,"t":"sales","k":"faint"},
      {"gx":336,"gy":117,"t":"▲","k":"faint"},
      {"gx":120,"gy":112,"t":"%","k":"faint"},
      {"gx":26,"gy":150,"t":"Product","k":"faint"},
      {"gx":22,"gy":161,"t":"Sales","k":"faint"},
      {"gx":18,"gy":186,"t":"Region A","k":"faint"},
      {"gx":128,"gy":182,"t":"Retail","k":"faint"},
      {"gx":128,"gy":196,"t":"Region B","k":"faint"},
      {"gx":310,"gy":166,"t":"Q3","k":"faint"},
      {"gx":196,"gy":185,"t":"Total","k":"faint"},
      {"gx":262,"gy":184,"t":"Sales","k":"faint"},
      {"gx":314,"gy":182,"t":"Avg","k":"faint"},
      {"gx":37,"gy":227,"t":"$ 3.1 sales revenue","k":"small"},
      {"gx":127,"gy":227,"t":"4.2%  12.5K","k":"yellow"},
      {"gx":192,"gy":227,"t":"2.8% rate","k":"ygreen"},
      {"gx":237,"gy":227,"t":"1.2% avg","k":"yellow"},
      {"gx":80,"gy":243,"t":"Sales","k":"faint"},
      {"gx":140,"gy":243,"t":"Profit margin","k":"faint"},
      {"gx":292,"gy":240,"t":"Summary","k":"faint"},
      {"gx":70,"gy":262,"t":"Sales channel","k":"faint"},
      {"gx":220,"gy":262,"t":"Rate","k":"faint"}]},
     "mark":{"type":"text","align":"left","baseline":"middle","font":"Liberation Sans"},
     "encoding":{"x":{"field":"gx","type":"quantitative","scale":{"domain":[0,380],"nice":false,"zero":false},"axis":null},
      "y":{"field":"gy","type":"quantitative","scale":{"domain":[0,284],"nice":false,"zero":false,"reverse":true},"axis":null},
      "text":{"field":"t"},
      "color":{"field":"k","type":"nominal","scale":{"domain":["faint","small","greensmall","greenbig","yellow","ygreen"],"range":["#a3a8ad","#4d5258","#5cb77a","#2f9e56","#e0ad36","#b3bd3a"]},"legend":null},
      "size":{"field":"k","type":"nominal","scale":{"type":"ordinal","domain":["faint","small","greensmall","greenbig","yellow","ygreen"],"range":[6.5,7.5,7,12,7.5,7.5]},"legend":null}}}
   ]}
 ]}
]},
{"width":906,"height":262,
 "resolve":{"scale":{"x":"independent","y":"independent","color":"independent","size":"independent","strokeWidth":"independent"}},
 "layer":[
  {"data":{"values":[{"gx":0,"gx2":906,"gy":0,"gy2":259,"k":"panel"},{"gx":583,"gx2":896,"gy":0,"gy2":17,"k":"strip"},{"gx":0,"gx2":906,"gy":237,"gy2":259,"k":"foot"},
    {"gx":533,"gx2":538,"gy":105,"gy2":112,"k":"g"},{"gx":533,"gx2":538,"gy":114,"gy2":120,"k":"g"},{"gx":533,"gx2":538,"gy":132,"gy2":142,"k":"g"},{"gx":533,"gx2":538,"gy":155,"gy2":165,"k":"g"},{"gx":533,"gx2":538,"gy":182,"gy2":192,"k":"g"},{"gx":533,"gx2":538,"gy":212,"gy2":222,"k":"g"},{"gx":423,"gx2":427,"gy":177,"gy2":190,"k":"g"},{"gx":253,"gx2":261,"gy":40,"gy2":47,"k":"g"}]},
   "mark":{"type":"rect"},
   "encoding":{"x":{"field":"gx","type":"quantitative","scale":{"domain":[0,906],"nice":false,"zero":false},"axis":null},"x2":{"field":"gx2"},
    "y":{"field":"gy","type":"quantitative","scale":{"domain":[0,262],"nice":false,"zero":false,"reverse":true},"axis":null},"y2":{"field":"gy2"},
    "color":{"field":"k","type":"nominal","scale":{"domain":["panel","strip","foot","g"],"range":["#dfe1e3","#e9eaec","#e6e7e9","#62c27f"]},"legend":null}}},
  {"data":{"values":[{"gx":0,"gx2":906,"gy":62,"gy2":62,"k":"line"},{"gx":443,"gx2":443,"gy":0,"gy2":237,"k":"line"},{"gx":583,"gx2":583,"gy":62,"gy2":237,"k":"line"},{"gx":735,"gx2":735,"gy":62,"gy2":237,"k":"line"},{"gx":10,"gx2":428,"gy":102,"gy2":102,"k":"line"},{"gx":10,"gx2":428,"gy":134,"gy2":134,"k":"line"},{"gx":10,"gx2":428,"gy":167,"gy2":167,"k":"line"},{"gx":748,"gx2":898,"gy":89,"gy2":89,"k":"mid"},{"gx":748,"gx2":893,"gy":117,"gy2":117,"k":"dark"},{"gx":748,"gx2":898,"gy":159,"gy2":159,"k":"mid"},{"gx":586,"gx2":586,"gy":0,"gy2":17,"k":"green"},{"gx":600,"gx2":890,"gy":7,"gy2":7,"k":"blue"},{"gx":0,"gx2":906,"gy":237,"gy2":237,"k":"line"}]},
   "mark":{"type":"rule"},
   "encoding":{"x":{"field":"gx","type":"quantitative","scale":{"domain":[0,906],"nice":false,"zero":false},"axis":null},"x2":{"field":"gx2"},
    "y":{"field":"gy","type":"quantitative","scale":{"domain":[0,262],"nice":false,"zero":false,"reverse":true},"axis":null},"y2":{"field":"gy2"},
    "color":{"field":"k","type":"nominal","scale":{"domain":["line","mid","dark","green","blue"],"range":["#cbced1","#9da3a9","#4f5a63","#5bbf7a","#aab4c0"]},"legend":null},
    "strokeWidth":{"field":"k","type":"nominal","scale":{"type":"ordinal","domain":["line","mid","dark","green","blue"],"range":[1.2,1,2,2,1.5]},"legend":null}}},
  {"data":{"values":[{"gx":656,"gy":152}]},
   "mark":{"type":"arc","theta":2.55,"theta2":4.88,"innerRadius":47,"outerRadius":49,"fill":"#d3d6d9"},
   "encoding":{"x":{"field":"gx","type":"quantitative","scale":{"domain":[0,906],"nice":false,"zero":false},"axis":null},
    "y":{"field":"gy","type":"quantitative","scale":{"domain":[0,262],"nice":false,"zero":false,"reverse":true},"axis":null}}},
  {"data":{"values":[{"gx":656,"gy":152}]},
   "mark":{"type":"arc","theta":-1.4,"theta2":-1.0,"innerRadius":44,"outerRadius":53,"fill":"#f1c453"},
   "encoding":{"x":{"field":"gx","type":"quantitative","scale":{"domain":[0,906],"nice":false,"zero":false},"axis":null},
    "y":{"field":"gy","type":"quantitative","scale":{"domain":[0,262],"nice":false,"zero":false,"reverse":true},"axis":null}}},
  {"data":{"values":[{"gx":656,"gy":152}]},
   "mark":{"type":"arc","theta":-1.05,"theta2":0.7,"innerRadius":42,"outerRadius":56,"fill":"#eda03e"},
   "encoding":{"x":{"field":"gx","type":"quantitative","scale":{"domain":[0,906],"nice":false,"zero":false},"axis":null},
    "y":{"field":"gy","type":"quantitative","scale":{"domain":[0,262],"nice":false,"zero":false,"reverse":true},"axis":null}}},
  {"data":{"values":[{"gx":656,"gy":152}]},
   "mark":{"type":"arc","theta":0.7,"theta2":2.45,"innerRadius":44,"outerRadius":53,"fill":"#addfb7"},
   "encoding":{"x":{"field":"gx","type":"quantitative","scale":{"domain":[0,906],"nice":false,"zero":false},"axis":null},
    "y":{"field":"gy","type":"quantitative","scale":{"domain":[0,262],"nice":false,"zero":false,"reverse":true},"axis":null}}},
  {"data":{"values":[{"gx":656,"gy":152}]},
   "mark":{"type":"arc","theta":2.35,"theta2":2.55,"innerRadius":44,"outerRadius":53,"fill":"#73c289"},
   "encoding":{"x":{"field":"gx","type":"quantitative","scale":{"domain":[0,906],"nice":false,"zero":false},"axis":null},
    "y":{"field":"gy","type":"quantitative","scale":{"domain":[0,262],"nice":false,"zero":false,"reverse":true},"axis":null}}},
  {"data":{"values":[{"gx":656,"gy":152}]},
   "mark":{"type":"arc","theta":-0.5,"theta2":0.45,"innerRadius":33,"outerRadius":36,"fill":"#bfe4c7"},
   "encoding":{"x":{"field":"gx","type":"quantitative","scale":{"domain":[0,906],"nice":false,"zero":false},"axis":null},
    "y":{"field":"gy","type":"quantitative","scale":{"domain":[0,262],"nice":false,"zero":false,"reverse":true},"axis":null}}},
  {"data":{"values":[
    {"gx":10,"gy":8,"t":"Analytics","k":"faint"},
    {"gx":40,"gy":20,"t":"overview","k":"greensmall"},
    {"gx":8,"gy":43,"t":"Sales info","k":"greensmall"},
    {"gx":55,"gy":43,"t":"Revenue","k":"green"},
    {"gx":100,"gy":36,"t":"Distribution","k":"faint"},
    {"gx":105,"gy":46,"t":"$ per unit","k":"faint"},
    {"gx":177,"gy":36,"t":"▪ Product Sales","k":"faint"},
    {"gx":195,"gy":46,"t":"Sales revenue","k":"small"},
    {"gx":292,"gy":45,"t":"Rate","k":"faint"},
    {"gx":320,"gy":45,"t":"Total","k":"faint"},
    {"gx":380,"gy":40,"t":"Product summary","k":"faint"},
    {"gx":588,"gy":34,"t":"Revenue by product category","k":"faint"},
    {"gx":601,"gy":50,"t":"Breakdown","k":"small"},
    {"gx":693,"gy":50,"t":"Quarterly","k":"small"},
    {"gx":870,"gy":52,"t":"Filter","k":"faint"},
    {"gx":13,"gy":80,"t":"Sales performance overview by category","k":"small"},
    {"gx":196,"gy":80,"t":"Statistics","k":"small"},
    {"gx":45,"gy":94,"t":"Average product sales","k":"faint"},
    {"gx":205,"gy":95,"t":"Productivity metrics","k":"faint"},
    {"gx":390,"gy":95,"t":"Conversion","k":"faint"},
    {"gx":13,"gy":112,"t":"Sales channel analysis","k":"faint"},
    {"gx":205,"gy":112,"t":"Regional performance","k":"faint"},
    {"gx":383,"gy":114,"t":"Average rate","k":"faint"},
    {"gx":28,"gy":127,"t":"Comparison of revenue by regions","k":"faint"},
    {"gx":188,"gy":126,"t":"Average quarterly performance","k":"faint"},
    {"gx":385,"gy":128,"t":"Sales: 3K","k":"faint"},
    {"gx":18,"gy":144,"t":"Top performing products by revenue","k":"faint"},
    {"gx":208,"gy":146,"t":"Product list","k":"faint"},
    {"gx":383,"gy":148,"t":"Growth level","k":"faint"},
    {"gx":28,"gy":162,"t":"Category / Region sales","k":"faint"},
    {"gx":390,"gy":164,"t":"Amount","k":"faint"},
    {"gx":28,"gy":178,"t":"Distribution / total","k":"faint"},
    {"gx":380,"gy":182,"t":"Rate %","k":"faint"},
    {"gx":38,"gy":190,"t":"Type / YoY","k":"faint"},
    {"gx":198,"gy":195,"t":"Quarter","k":"faint"},
    {"gx":28,"gy":212,"t":"Total sales / concentration","k":"faint"},
    {"gx":385,"gy":212,"t":"Region","k":"faint"},
    {"gx":205,"gy":221,"t":"Weekly","k":"faint"},
    {"gx":30,"gy":229,"t":"Average","k":"faint"},
    {"gx":453,"gy":74,"t":"Sales performance by region","k":"faint"},
    {"gx":453,"gy":92,"t":"Key product metrics and revenue growth","k":"faint"},
    {"gx":482,"gy":108,"t":"Sales rate 2.5","k":"faint"},
    {"gx":490,"gy":118,"t":"Average","k":"faint"},
    {"gx":470,"gy":140,"t":"Product sales  1.2","k":"faint"},
    {"gx":465,"gy":165,"t":"Sales Q1   4.1","k":"faint"},
    {"gx":480,"gy":190,"t":"Regions","k":"faint"},
    {"gx":495,"gy":217,"t":"Total","k":"faint"},
    {"gx":601,"gy":81,"t":"Revenue growth analysis by region","k":"faint"},
    {"gx":596,"gy":140,"t":"20%","k":"faint"},
    {"gx":594,"gy":153,"t":"Sales","k":"faint"},
    {"gx":620,"gy":213,"t":"Total growth","k":"faint"},
    {"gx":748,"gy":82,"t":"Sales performance summary","k":"small"},
    {"gx":750,"gy":97,"t":"Total revenue by channel","k":"faint"},
    {"gx":748,"gy":130,"t":"Statistics","k":"small"},
    {"gx":755,"gy":143,"t":"Q1 vs Q2","k":"faint"},
    {"gx":748,"gy":173,"t":"Comparative distribution of total sales","k":"small"},
    {"gx":750,"gy":183,"t":"per region and product","k":"faint"},
    {"gx":748,"gy":207,"t":"Total","k":"faint"},
    {"gx":775,"gy":207,"t":"Sales overview chart","k":"faint"},
    {"gx":748,"gy":221,"t":"Average","k":"faint"},
    {"gx":780,"gy":221,"t":"Revenue per region","k":"faint"},
    {"gx":738,"gy":247,"t":"Data updated daily · Sales report","k":"faint"}]},
   "mark":{"type":"text","align":"left","baseline":"middle","font":"Liberation Sans"},
   "encoding":{"x":{"field":"gx","type":"quantitative","scale":{"domain":[0,906],"nice":false,"zero":false},"axis":null},
    "y":{"field":"gy","type":"quantitative","scale":{"domain":[0,262],"nice":false,"zero":false,"reverse":true},"axis":null},
    "text":{"field":"t"},
    "color":{"field":"k","type":"nominal","scale":{"domain":["faint","small","green","greensmall"],"range":["#9ea3a8","#6a7076","#3ca862","#6cc08a"]},"legend":null},
    "size":{"field":"k","type":"nominal","scale":{"type":"ordinal","domain":["faint","small","green","greensmall"],"range":[6.5,7,8,7]},"legend":null}}},
  {"data":{"values":[
    {"gx":653,"gy":154,"t":"¥OLAT","k":"big"},
    {"gx":656,"gy":184,"t":"XDS","k":"mid"}]},
   "mark":{"type":"text","align":"center","baseline":"middle","font":"Liberation Serif","fontWeight":"bold"},
   "encoding":{"x":{"field":"gx","type":"quantitative","scale":{"domain":[0,906],"nice":false,"zero":false},"axis":null},
    "y":{"field":"gy","type":"quantitative","scale":{"domain":[0,262],"nice":false,"zero":false,"reverse":true},"axis":null},
    "text":{"field":"t"},
    "color":{"field":"k","type":"nominal","scale":{"domain":["big","mid"],"range":["#3b3b3b","#444444"]},"legend":null},
    "size":{"field":"k","type":"nominal","scale":{"type":"ordinal","domain":["big","mid"],"range":[16,12]},"legend":null}}}
 ]}
]},
{"width":54,"height":1024,
 "data":{"values":[{"gx":0,"gx2":54,"gy":0,"gy2":83,"k":"top"},{"gx":0,"gx2":54,"gy":83,"gy2":1024,"k":"low"}]},
 "mark":{"type":"rect"},
 "encoding":{"x":{"field":"gx","type":"quantitative","scale":{"domain":[0,54],"nice":false,"zero":false},"axis":null},"x2":{"field":"gx2"},
  "y":{"field":"gy","type":"quantitative","scale":{"domain":[0,1024],"nice":false,"zero":false,"reverse":true},"axis":null},"y2":{"field":"gy2"},
  "color":{"field":"k","type":"nominal","scale":{"domain":["top","low"],"range":["#b4bbc2","#a0acb5"]},"legend":null}}}
]
}
